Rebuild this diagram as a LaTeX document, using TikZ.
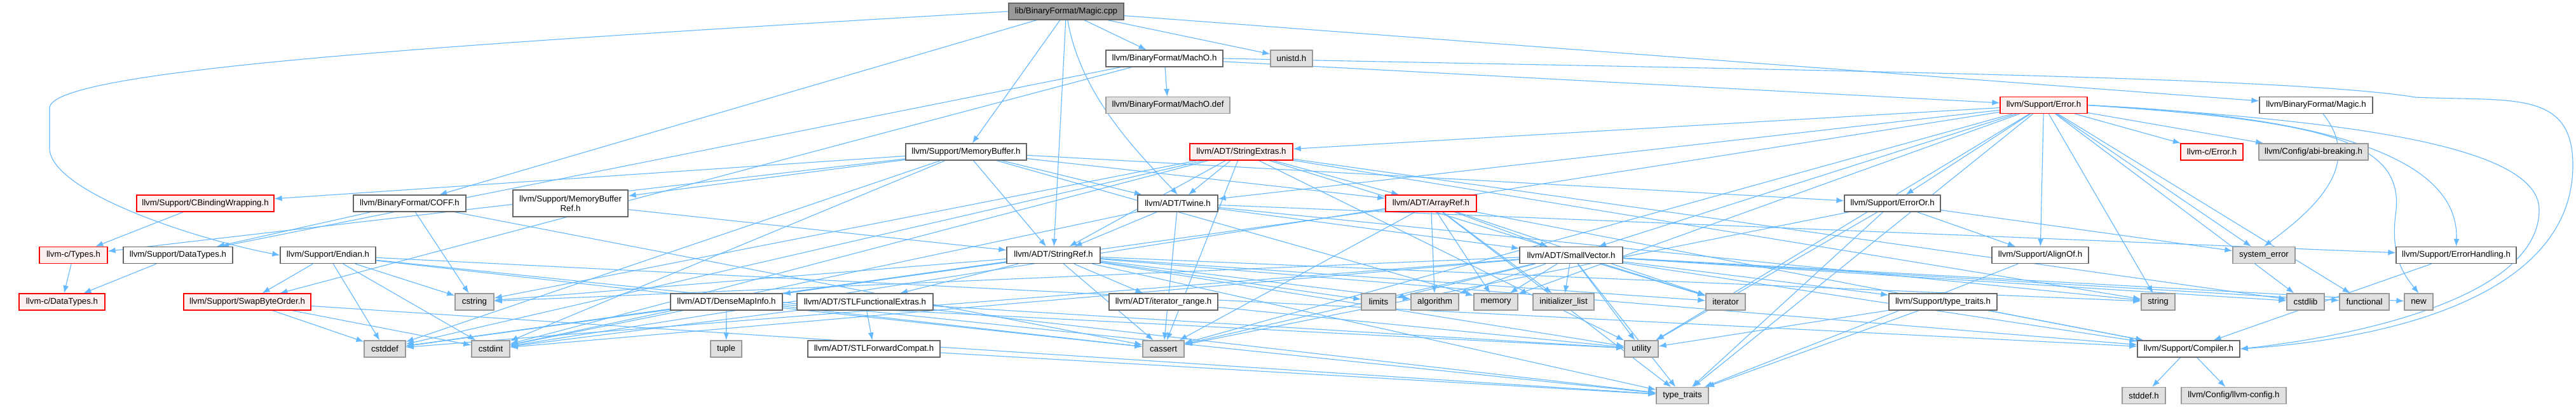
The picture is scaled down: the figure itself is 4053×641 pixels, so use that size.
\documentclass[tikz,border=0pt]{standalone}
\usepackage{fontspec}
\setmainfont{Liberation Sans}
\usetikzlibrary{arrows.meta}
\definecolor{edgec}{HTML}{63B8FF}
\definecolor{bordn}{HTML}{666666}
\definecolor{bords}{HTML}{999999}
\definecolor{fills}{HTML}{E0E0E0}
\definecolor{fillr}{HTML}{FFF0F0}
\definecolor{fillm}{HTML}{999999}
\pgfdeclarelayer{back}
\pgfdeclarelayer{bg}
\pgfsetlayers{back,bg,main}
\begin{document}
\begin{tikzpicture}[x=1pt,y=-1pt,
  box/.style={draw=bordn, line width=1.3pt, fill=white, minimum height=26pt, inner sep=0pt, font=\fontsize{13.3}{15}\selectfont, text=black},
  mainbox/.style={box, fill=fillm},
  redbox/.style={box, draw=red, fill=fillr},
  sysbox/.style={box, draw=bords, fill=fills},
  e/.style={draw=edgec, line width=1.1pt, -{Latex[length=12pt,width=9pt]}}]
\useasboundingbox (0,0) rectangle (4053,641);
\begin{pgfonlayer}{back}
\fill[white] (0,0) rectangle (4053,641);
\end{pgfonlayer}
% row 1
\node[mainbox, minimum width=181pt] (magiccpp) at (1677.5,18) {lib/BinaryFormat/Magic.cpp};
% row 2
\node[box, minimum width=184pt] (macho) at (1832,92) {llvm/BinaryFormat/MachO.h};
\node[sysbox, minimum width=66pt] (unistd) at (2032,92) {unistd.h};
% row 3
\node[sysbox, minimum width=195pt] (machodef) at (1837.5,165.5) {llvm/BinaryFormat/MachO.def};
\node[redbox, minimum width=137pt] (error) at (3215.5,165.5) {llvm/Support/Error.h};
\node[box, minimum width=178pt] (magich) at (3644,165.5) {llvm/BinaryFormat/Magic.h};
% row 4
\node[box, minimum width=190pt] (membuf) at (1520,239) {llvm/Support/MemoryBuffer.h};
\node[redbox, minimum width=162pt] (strext) at (1953,239) {llvm/ADT/StringExtras.h};
\node[redbox, minimum width=98pt] (cerror) at (3480,239) {llvm-c/Error.h};
\node[sysbox, minimum width=172pt] (abi) at (3640,239) {llvm/Config/abi-breaking.h};
% row 5
\node[redbox, minimum width=216pt] (cbind) at (323,320) {llvm/Support/CBindingWrapping.h};
\node[box, minimum width=177pt] (coff) at (644.5,320) {llvm/BinaryFormat/COFF.h};
\node[box, minimum width=181pt, minimum height=42pt, align=center] (membufref) at (897.5,320) {llvm/Support/MemoryBuffer\\Ref.h};
\node[box, minimum width=126pt] (twine) at (1853,320) {llvm/ADT/Twine.h};
\node[redbox, minimum width=143pt] (arrayref) at (2251.5,320) {llvm/ADT/ArrayRef.h};
\node[box, minimum width=151pt] (erroror) at (2977.5,320) {llvm/Support/ErrorOr.h};
% row 6
\node[redbox, minimum width=107pt] (ctypes) at (115.5,401.5) {llvm-c/Types.h};
\node[box, minimum width=172pt] (datatypes) at (280,401.5) {llvm/Support/DataTypes.h};
\node[box, minimum width=150pt] (endian) at (516,401.5) {llvm/Support/Endian.h};
\node[box, minimum width=147pt] (stringref) at (1657.5,401.5) {llvm/ADT/StringRef.h};
\node[box, minimum width=162pt] (smallvec) at (2472,401.5) {llvm/ADT/SmallVector.h};
\node[box, minimum width=152pt] (alignof) at (3210,401.5) {llvm/Support/AlignOf.h};
\node[sysbox, minimum width=98pt] (syserr) at (3562,401.5) {system\_error};
\node[box, minimum width=189pt] (errhand) at (3864.5,401.5) {llvm/Support/ErrorHandling.h};
% row 7
\node[redbox, minimum width=135pt] (cdatatypes) at (97.5,475) {llvm-c/DataTypes.h};
\node[redbox, minimum width=200pt] (swap) at (389,475) {llvm/Support/SwapByteOrder.h};
\node[sysbox, minimum width=61pt] (cstring) at (746.5,475) {cstring};
\node[box, minimum width=176pt] (densemap) at (1143,475) {llvm/ADT/DenseMapInfo.h};
\node[box, minimum width=214pt] (stlfunc) at (1361,475) {llvm/ADT/STLFunctionalExtras.h};
\node[box, minimum width=171pt] (iterrange) at (1830.5,475) {llvm/ADT/iterator\_range.h};
\node[sysbox, minimum width=54pt] (limits) at (2169,475) {limits};
\node[sysbox, minimum width=75pt] (algorithm) at (2257.5,475) {algorithm};
\node[sysbox, minimum width=69pt] (memory) at (2353.5,475) {memory};
\node[sysbox, minimum width=96pt] (initlist) at (2460,475) {initializer\_list};
\node[sysbox, minimum width=62pt] (iterator) at (2715,475) {iterator};
\node[box, minimum width=170pt] (typetraitsh) at (3057,475) {llvm/Support/type\_traits.h};
\node[sysbox, minimum width=53pt] (string) at (3395.5,475) {string};
\node[sysbox, minimum width=59pt] (cstdlib) at (3627.5,475) {cstdlib};
\node[sysbox, minimum width=78pt] (functional) at (3720,475) {functional};
\node[sysbox, minimum width=45pt] (new) at (3805.5,475) {new};
% row 8
\node[sysbox, minimum width=65pt] (cstddef) at (605.5,549) {cstddef};
\node[sysbox, minimum width=60pt] (cstdint) at (772,549) {cstdint};
\node[sysbox, minimum width=49pt] (tuple) at (1142.5,549) {tuple};
\node[box, minimum width=208pt] (stlfwd) at (1375,549) {llvm/ADT/STLForwardCompat.h};
\node[sysbox, minimum width=65pt] (cassert) at (1830.5,549) {cassert};
\node[sysbox, minimum width=53pt] (utility) at (2582.5,549) {utility};
\node[box, minimum width=161pt] (compiler) at (3443.5,549) {llvm/Support/Compiler.h};
% row 9
\node[sysbox, minimum width=82pt] (typetraits) at (2647,622.5) {type\_traits};
\node[sysbox, minimum width=68pt] (stddef) at (3373,622.5) {stddef.h};
\node[sysbox, minimum width=165pt] (llvmconfig) at (3514.5,622.5) {llvm/Config/llvm-config.h};

\begin{pgfonlayer}{bg}
% special routes
\draw[e] (magiccpp.west) .. controls (700,70) and (78,110) .. (78,170) -- (78,233) .. controls (78,300) and (300,375) .. (endian.west);
\draw[e] (magiccpp) .. controls (1700,150) and (1790,240) .. (twine.north);
\draw[e] (macho.east) .. controls (2800,110) and (3600,120) .. (3800,153) .. controls (3950,160) and (4048,140) .. (4048,260) .. controls (4048,450) and (3800,530) .. (compiler.east);
\draw[e] (error.east) .. controls (3700,190) and (3995,230) .. (3995,330) .. controls (3995,470) and (3700,530) .. (compiler.east);
\draw[e] (error.east) .. controls (3600,180) and (3870,230) .. (errhand.north);
\draw[e] (error.east) .. controls (3650,190) and (3780,220) .. (3770,330) .. controls (3760,400) and (3780,430) .. (new.north);
\draw[e] (magich) .. controls (3720,260) and (3640,330) .. (syserr.north);
% straight edges
\foreach \s/\t in {
 magiccpp/magich, magiccpp/stringref, magiccpp/coff, magiccpp/macho, magiccpp/membuf, magiccpp/unistd,
 macho/machodef, macho/datatypes, macho/error, macho/swap,
 error/cerror, error/abi, error/strext, error/twine, error/smallvec, error/alignof, error/erroror,
 error/cassert, error/cstdint, error/cstdlib, error/functional, error/memory, error/string, error/syserr, error/typetraits, error/utility,
 membuf/ctypes, membuf/arrayref, membuf/stringref, membuf/twine, membuf/cbind, membuf/erroror, membuf/membufref, membuf/cstddef, membuf/cstdint, membuf/memory,
 strext/arrayref, strext/stringref, strext/twine, strext/cassert, strext/cstddef, strext/cstdint, strext/cstdlib, strext/cstring, strext/iterator, strext/string, strext/utility,
 cbind/ctypes, coff/datatypes, coff/cassert, coff/cstring, membufref/stringref,
 twine/smallvec, twine/stringref, twine/errhand, twine/cassert, twine/cstdint, twine/string,
 arrayref/smallvec, arrayref/compiler, arrayref/algorithm, arrayref/cassert, arrayref/cstddef, arrayref/initlist, arrayref/iterator, arrayref/memory, arrayref/typetraits,
 erroror/alignof, erroror/cassert, erroror/syserr, erroror/typetraits, erroror/utility,
 ctypes/cdatatypes, datatypes/cdatatypes,
 endian/swap, endian/compiler, endian/cassert, endian/cstddef, endian/cstdint, endian/cstring, endian/typetraits,
 stringref/densemap, stringref/stlfunc, stringref/iterrange, stringref/compiler, stringref/algorithm, stringref/cassert, stringref/cstddef, stringref/cstring, stringref/iterator, stringref/limits, stringref/string, stringref/typetraits, stringref/utility,
 smallvec/compiler, smallvec/typetraitsh, smallvec/algorithm, smallvec/cassert, smallvec/cstddef, smallvec/cstdint, smallvec/cstdlib, smallvec/cstring, smallvec/functional, smallvec/initlist, smallvec/iterator, smallvec/limits, smallvec/memory, smallvec/new, smallvec/typetraits, smallvec/utility,
 alignof/typetraits, errhand/compiler,
 swap/cstddef, swap/cstdint, swap/typetraits,
 densemap/tuple, densemap/cassert, densemap/cstddef, densemap/cstdint, densemap/utility,
 stlfunc/stlfwd, stlfunc/cstdint, stlfunc/typetraits, stlfunc/utility,
 iterrange/utility, typetraitsh/compiler, typetraitsh/typetraits, typetraitsh/utility,
 stlfwd/typetraits, compiler/stddef, compiler/llvmconfig}
 \draw[e] (\s) -- (\t);
\end{pgfonlayer}
\end{tikzpicture}
\end{document}
